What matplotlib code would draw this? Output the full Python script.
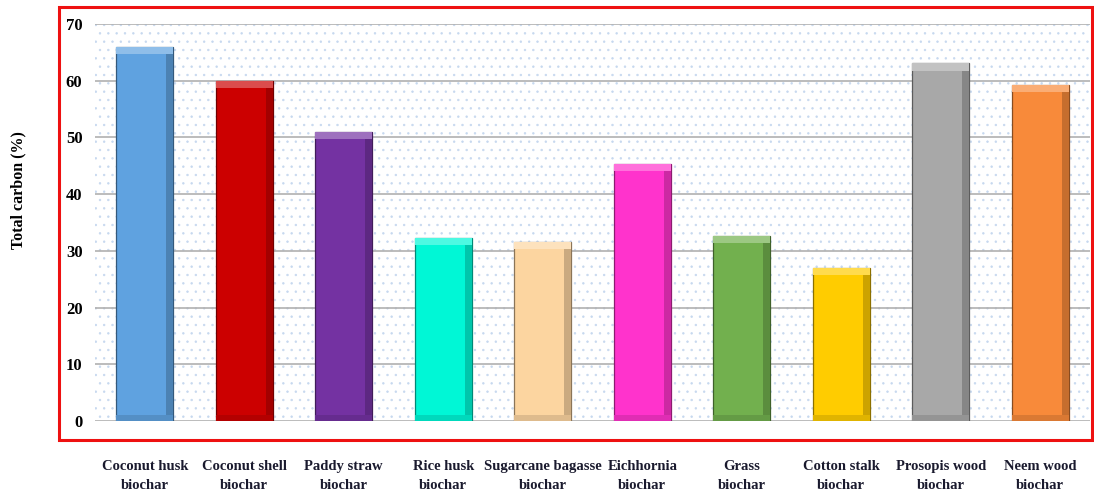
import numpy as np
import matplotlib.pyplot as plt
import matplotlib.colors as mcolors
from matplotlib.patches import Rectangle

categories = ["Coconut husk\nbiochar", "Coconut shell\nbiochar", "Paddy straw\nbiochar",
              "Rice husk\nbiochar", "Sugarcane bagasse\nbiochar", "Eichhornia\nbiochar",
              "Grass\nbiochar", "Cotton stalk\nbiochar", "Prosopis wood\nbiochar",
              "Neem wood\nbiochar"]
total_carbon = [66.0, 60.0, 51.0, 32.3, 31.6, 45.3, 32.6, 27.0, 63.1, 59.3]
colors = ["#5fa2e0", "#cc0000", "#7432a2", "#00f7d6", "#fcd5a0",
          "#ff33cc", "#72b04e", "#ffcc00", "#a8a8a8", "#f88a3a"]

plt.rcParams['font.family'] = ['Liberation Serif', 'DejaVu Serif']
plt.rcParams['hatch.linewidth'] = 0.5

fig = plt.figure(figsize=(10.94, 4.97), dpi=100)
W, H = 1094, 497
ax = fig.add_axes([95 / W, (H - 421) / H, (1090 - 95) / W, (421 - 24) / H])

# red frame around the chart
fig.patches.append(Rectangle((59 / W, (H - 440) / H), (1092 - 59) / W, (440 - 7) / H,
                             transform=fig.transFigure, fill=False,
                             edgecolor="#ee1111", linewidth=2.2))

# dotted background
ax.set_facecolor("white")
ax.patch.set_hatch("..")
ax.patch.set_edgecolor("#c6d8ef")
ax.patch.set_linewidth(0)

x = np.arange(len(categories))
w = 0.57
vals = np.array(total_carbon)

def shade(c, f):
    r, g, b = mcolors.to_rgb(c)
    if f < 1:
        return (r * f, g * f, b * f)
    return (r + (1 - r) * (f - 1), g + (1 - g) * (f - 1), b + (1 - b) * (f - 1))

ax.bar(x, vals, width=w, color=colors, edgecolor=[shade(c, 0.55) for c in colors],
       linewidth=0.9, zorder=3)
# bevel: darker right side, lighter top, darker bottom
ax.bar(x + w / 2 - w * 0.06, vals, width=w * 0.12,
       color=[shade(c, 0.8) for c in colors], linewidth=0, zorder=4)
ax.bar(x, np.full(len(x), 1.3), bottom=vals - 1.3, width=w,
       color=[shade(c, 1.3) for c in colors], linewidth=0, zorder=5)
ax.bar(x, np.full(len(x), 1.0), width=w,
       color=[shade(c, 0.88) for c in colors], linewidth=0, zorder=4)

ax.set_xlim(-0.5, len(categories) - 0.5)
ax.set_ylim(0, 70)
ax.set_yticks(np.arange(0, 71, 10))
ax.yaxis.grid(True, color="#b0b0b0", linewidth=1.2, zorder=0)
ax.set_axisbelow(True)
for s in ax.spines.values():
    s.set_visible(False)
ax.tick_params(axis='y', length=0, pad=9, labelsize=12)
for t in ax.get_yticklabels():
    t.set_fontweight("bold")

ax.set_xticks(x)
ax.set_xticklabels(categories, fontsize=10.5, fontweight="bold", color="#1a1a2e",
                   linespacing=1.6)
ax.tick_params(axis='x', length=0, pad=28)

fig.text(18 / W, (H - 190) / H, "Total carbon (%)", rotation=90, ha="center", va="center",
         fontsize=11.5, fontweight="bold")

fig.savefig("out.png", dpi=100)
